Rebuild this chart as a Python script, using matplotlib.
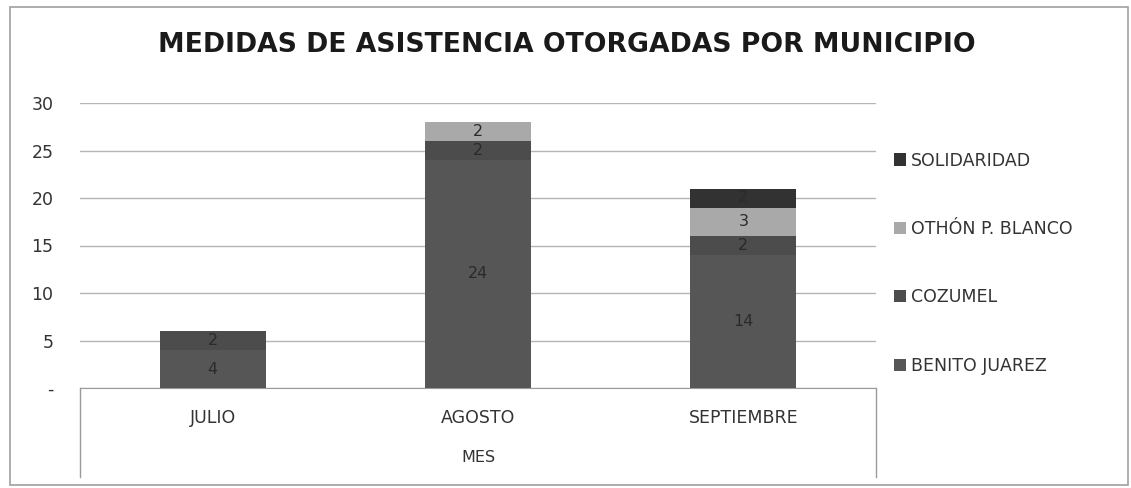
import matplotlib
matplotlib.use("Agg")
import matplotlib.pyplot as plt
from matplotlib.lines import Line2D
from matplotlib.patches import Rectangle
import numpy as np

# Datos
meses = ["JULIO", "AGOSTO", "SEPTIEMBRE"]
municipios = ["BENITO JUAREZ", "COZUMEL", "OTHÓN P. BLANCO", "SOLIDARIDAD"]
benito_juarez = [4, 24, 14]
cozumel = [2, 2, 2]
othon_p_blanco = [0, 2, 3]
solidaridad = [0, 0, 2]
yticks = [0, 5, 10, 15, 20, 25, 30]
ytick_labels = ["-", "5", "10", "15", "20", "25", "30"]

series = [benito_juarez, cozumel, othon_p_blanco, solidaridad]
colores = ["#565656", "#4c4c4c", "#a9a9a9", "#323232"]

W, H = 1131, 488
fig = plt.figure(figsize=(W / 100, H / 100), dpi=100)
fig.patch.set_facecolor("white")

# area de trazado (en pixeles del original)
x0, x1, y0, y1 = 80, 876, 388, 103
ax = fig.add_axes([x0 / W, 1 - y0 / H, (x1 - x0) / W, (y0 - y1) / H])

x = np.arange(len(meses))
base = np.zeros(len(meses))
handles = []
for nombre, valores, color in zip(municipios, series, colores):
    valores = np.array(valores, dtype=float)
    b = ax.bar(x, valores, width=0.4, bottom=base, color=color,
               edgecolor="none", zorder=3, label=nombre)
    handles.append(b)
    for xi, v, bo in zip(x, valores, base):
        if v > 0:
            ax.text(xi, bo + v / 2, f"{int(v)}", ha="center", va="center",
                    fontsize=11.5, color="#2a2a2a", zorder=4)
    base += valores

ax.set_xlim(-0.5, len(meses) - 0.5)
ax.set_ylim(0, 30)
ax.set_yticks(yticks)
ax.set_yticklabels(ytick_labels, fontsize=12.5, color="#333333")
ax.yaxis.grid(True, color="#b5b5b5", linewidth=1, zorder=0)
ax.tick_params(axis="y", length=0, pad=19)
ax.tick_params(axis="x", length=0, pad=15, labelsize=12.5, labelcolor="#333333")
ax.set_xticks(x)
ax.set_xticklabels(meses)
for s in ["top", "left", "right"]:
    ax.spines[s].set_visible(False)
ax.spines["bottom"].set_color("#9a9a9a")
ax.set_xlabel("MES", fontsize=11.5, color="#333333", labelpad=17)

# caja de categorias bajo el eje
for xp in (x0, x1):
    fig.add_artist(Line2D([xp / W, xp / W], [1 - y0 / H, 1 - 477 / H],
                          color="#9a9a9a", linewidth=1))

# borde exterior del grafico
fig.add_artist(Rectangle((10 / W, 1 - 485 / H), (1128 - 10) / W, (485 - 7) / H,
                         transform=fig.transFigure, fill=False,
                         edgecolor="#a0a0a0", linewidth=1.2))

fig.text(567 / W, 1 - 45 / H, "MEDIDAS DE ASISTENCIA OTORGADAS POR MUNICIPIO",
         ha="center", va="center", fontsize=19.2, fontweight="bold", color="#1a1a1a")

# leyenda en orden inverso
leg = fig.legend(handles[::-1], municipios[::-1], loc="upper left",
                 bbox_to_anchor=(878 / W, 1 - 136 / H), frameon=False,
                 fontsize=12.5, handlelength=0.7, handleheight=0.7,
                 handletextpad=0.3, labelspacing=2.9, labelcolor="#333333")

fig.savefig("out.png", dpi=100)
